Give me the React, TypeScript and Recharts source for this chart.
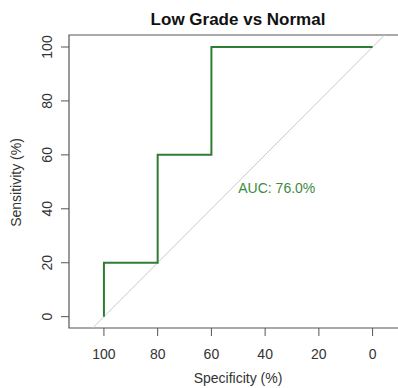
import { LineChart, Line, XAxis, YAxis, ReferenceLine, ReferenceArea, ReferenceDot, Label } from 'recharts';

// ROC curve points (pROC style, percent)
const specificity = [100, 100, 80, 80, 60, 60, 0];
const sensitivity = [0, 20, 20, 60, 60, 100, 100];
const xTicks = [100, 80, 60, 40, 20, 0];
const yTicks = [0, 20, 40, 60, 80, 100];
const aucText = 'AUC: 76.0%';
const aucPos = { x: 50, y: 50 };

const xDomain: [number, number] = [-12.8, 113];
const yDomain: [number, number] = [-4.2, 104.45];

const data = specificity.map((s, i) => ({ spec: s, sens: sensitivity[i] }));

const FONT = '"Liberation Sans", Arial, sans-serif';
const GREEN = '#2e7d32';

function YTick({ x, y, payload }: any) {
  return (
    <g transform={`translate(${x - 12},${y}) rotate(-90)`}>
      <text textAnchor="middle" y={5} fill="#333" fontSize={14}>
        {payload.value}
      </text>
    </g>
  );
}

function AucLabel({ viewBox }: any) {
  return (
    <text x={viewBox.x} y={viewBox.y} dy="0.8em" fill="#3d8b3d" fontSize={14}>
      {aucText}
    </text>
  );
}

export default function App() {
  return (
    <div style={{ position: 'relative', width: 398, height: 388, overflow: 'hidden', fontFamily: FONT, background: '#fff' }}>
      <style>{'body{margin:0}'}</style>
      <LineChart width={410} height={388} data={data} margin={{ top: 35, right: 3, bottom: 0, left: 0 }}>
        <XAxis
          type="number"
          dataKey="spec"
          domain={xDomain}
          allowDataOverflow
          reversed
          ticks={xTicks}
          tickSize={8}
          tickMargin={13}
          height={60}
          axisLine={false}
          tickLine={{ stroke: '#555' }}
          tick={{ fill: '#333', fontSize: 14 }}
        />
        <YAxis
          type="number"
          domain={yDomain}
          allowDataOverflow
          ticks={yTicks}
          tickSize={8}
          width={69}
          axisLine={false}
          tickLine={{ stroke: '#555' }}
          tick={<YTick />}
        />
        <ReferenceArea x1={xDomain[1]} x2={xDomain[0]} y1={yDomain[0]} y2={yDomain[1]} fill="none" stroke="#555" strokeWidth={1.2} fillOpacity={0} />
        <ReferenceLine
          segment={[
            { x: 100 - yDomain[0], y: yDomain[0] },
            { x: 100 - yDomain[1], y: yDomain[1] },
          ]}
          stroke="#cccccc"
          strokeWidth={1}
        />
        <Line type="linear" dataKey="sens" stroke={GREEN} strokeWidth={2} dot={false} isAnimationActive={false} />
        <ReferenceDot x={aucPos.x} y={aucPos.y} r={0} fill="none" stroke="none">
          <Label content={<AucLabel />} />
        </ReferenceDot>
      </LineChart>
      <svg width={398} height={388} style={{ position: 'absolute', left: 0, top: 0, pointerEvents: 'none' }}>
        <text x={238} y={25} textAnchor="middle" fontWeight="bold" fontSize={17} fill="#111">
          Low Grade vs Normal
        </text>
        <text x={238} y={383} textAnchor="middle" fontSize={14} fill="#333">
          Specificity (%)
        </text>
        <g transform="translate(16,182.5) rotate(-90)">
          <text textAnchor="middle" y={5} fontSize={14} fill="#333">
            Sensitivity (%)
          </text>
        </g>
      </svg>
    </div>
  );
}
